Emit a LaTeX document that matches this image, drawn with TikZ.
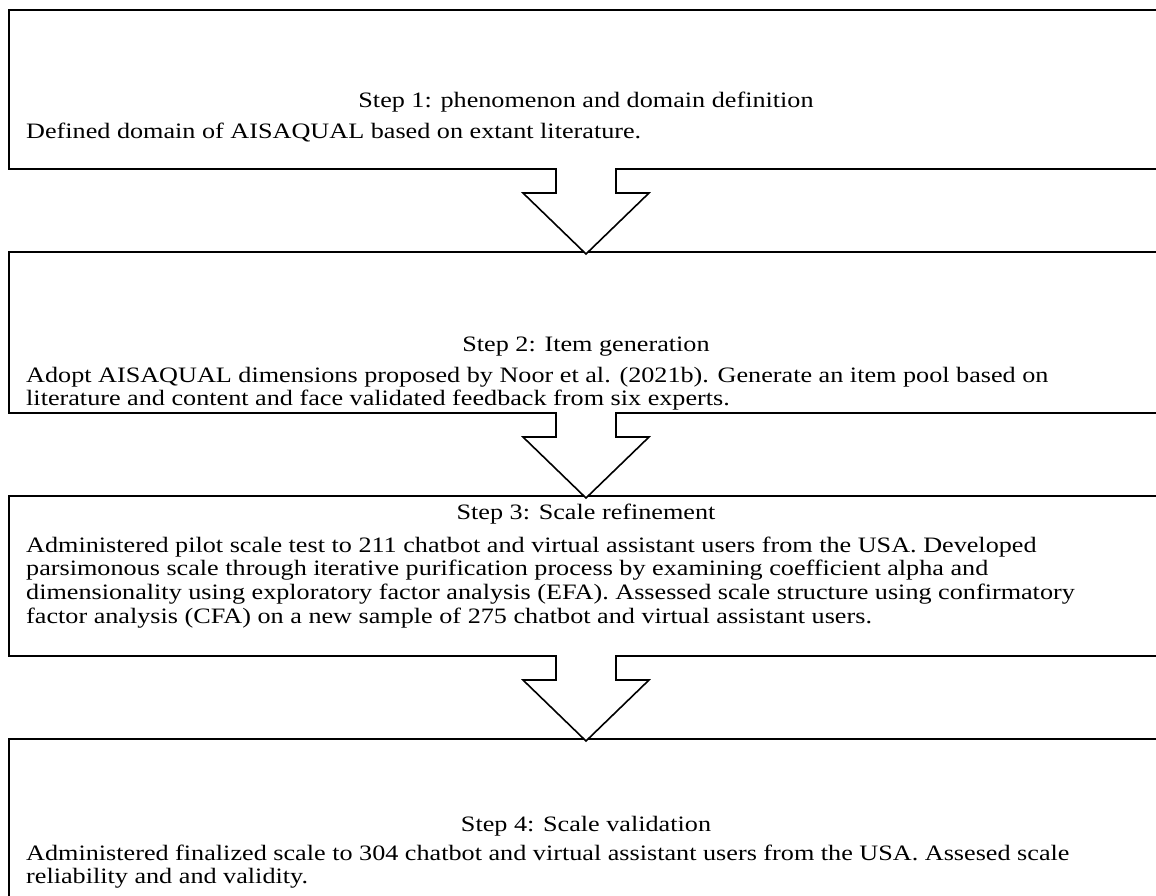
\documentclass[tikz,border=0pt]{standalone}
\usepackage{fontspec}
\setmainfont{Liberation Serif}[FakeStretch=1.19]
\usetikzlibrary{positioning, calc}

\newcommand{\stepflow}[2]{%
  \fill[white] ($(#1.south)+(-29,2)$) -- ($(#1.south)+(-29,-24)$) -- ($(#1.south)+(-63,-24)$) -- ($(#2.north)+(0,-2)$) -- ($(#1.south)+(63,-24)$) -- ($(#1.south)+(29,-24)$) -- ($(#1.south)+(29,2)$) -- cycle;
  \draw[flowarrow] ($(#1.south)+(-30,1)$) -- ($(#1.south)+(-30,-24)$) -- ($(#1.south)+(-63,-24)$) -- ($(#2.north)+(0,-2)$) -- ($(#1.south)+(63,-24)$) -- ($(#1.south)+(30,-24)$) -- ($(#1.south)+(30,1)$);
}

\begin{document}
\begin{tikzpicture}[
        x=1pt, y=1pt,
        node distance=83pt,
        stepbox/.style={rectangle, draw=black, line width=2pt, minimum width=1154pt, inner sep=0pt, outer sep=0pt},
        steptitle/.style={font=\fontsize{22}{23.6}\selectfont, inner sep=0pt, anchor=north},
        stepbody/.style={font=\fontsize{22}{23.6}\selectfont, inner sep=0pt, align=left, anchor=north west},
        flowarrow/.style={draw=black, line width=1.6pt, line join=miter}
    ]
        \useasboundingbox (0,0) rectangle (1156,-895);
        \clip (0,0) rectangle (1156,-895);

        % Step boxes
        \coordinate (corner) at (9,-10);
        \node (box1) [stepbox, minimum height=159pt, anchor=north west] at (corner) {};
        \node (box2) [stepbox, minimum height=161pt, below=of box1] {};
        \node (box3) [stepbox, minimum height=160pt, below=of box2] {};
        \node (box4) [stepbox, minimum height=170pt, below=of box3] {};

        % Titles
        \node (title1) [steptitle, below=82pt of box1.north] {Step 1: phenomenon and domain definition};
        \node (title2) [steptitle, below=85pt of box2.north] {Step 2: Item generation};
        \node (title3) [steptitle, below=8pt of box3.north] {Step 3: Scale refinement};
        \node (title4) [steptitle, below=77pt of box4.north] {Step 4: Scale validation};

        % Texts
        \node (text1) [stepbody] at ($(box1.west |- title1.south)+(17,-10)$) {Defined domain of AISAQUAL based on extant literature.};
        \node (text2) [stepbody] at ($(box2.west |- title2.south)+(17,-10)$) {Adopt AISAQUAL dimensions proposed by Noor et al. (2021b). Generate an item pool based on\\ literature and content and face validated feedback from six experts.};
        \node (text3) [stepbody] at ($(box3.west |- title3.south)+(17,-12)$) {Administered pilot scale test to 211 chatbot and virtual assistant users from the USA. Developed\\ parsimonous scale through iterative purification process by examining coefficient alpha and\\ dimensionality using exploratory factor analysis (EFA). Assessed scale structure using confirmatory\\ factor analysis (CFA) on a new sample of 275 chatbot and virtual assistant users.};
        \node (text4) [stepbody] at ($(box4.west |- title4.south)+(17,-8)$) {Administered finalized scale to 304 chatbot and virtual assistant users from the USA. Assesed scale\\ reliability and and validity.};

        % Arrows between steps
        \stepflow{box1}{box2}
        \stepflow{box2}{box3}
        \stepflow{box3}{box4}

    \end{tikzpicture}
\end{document}
